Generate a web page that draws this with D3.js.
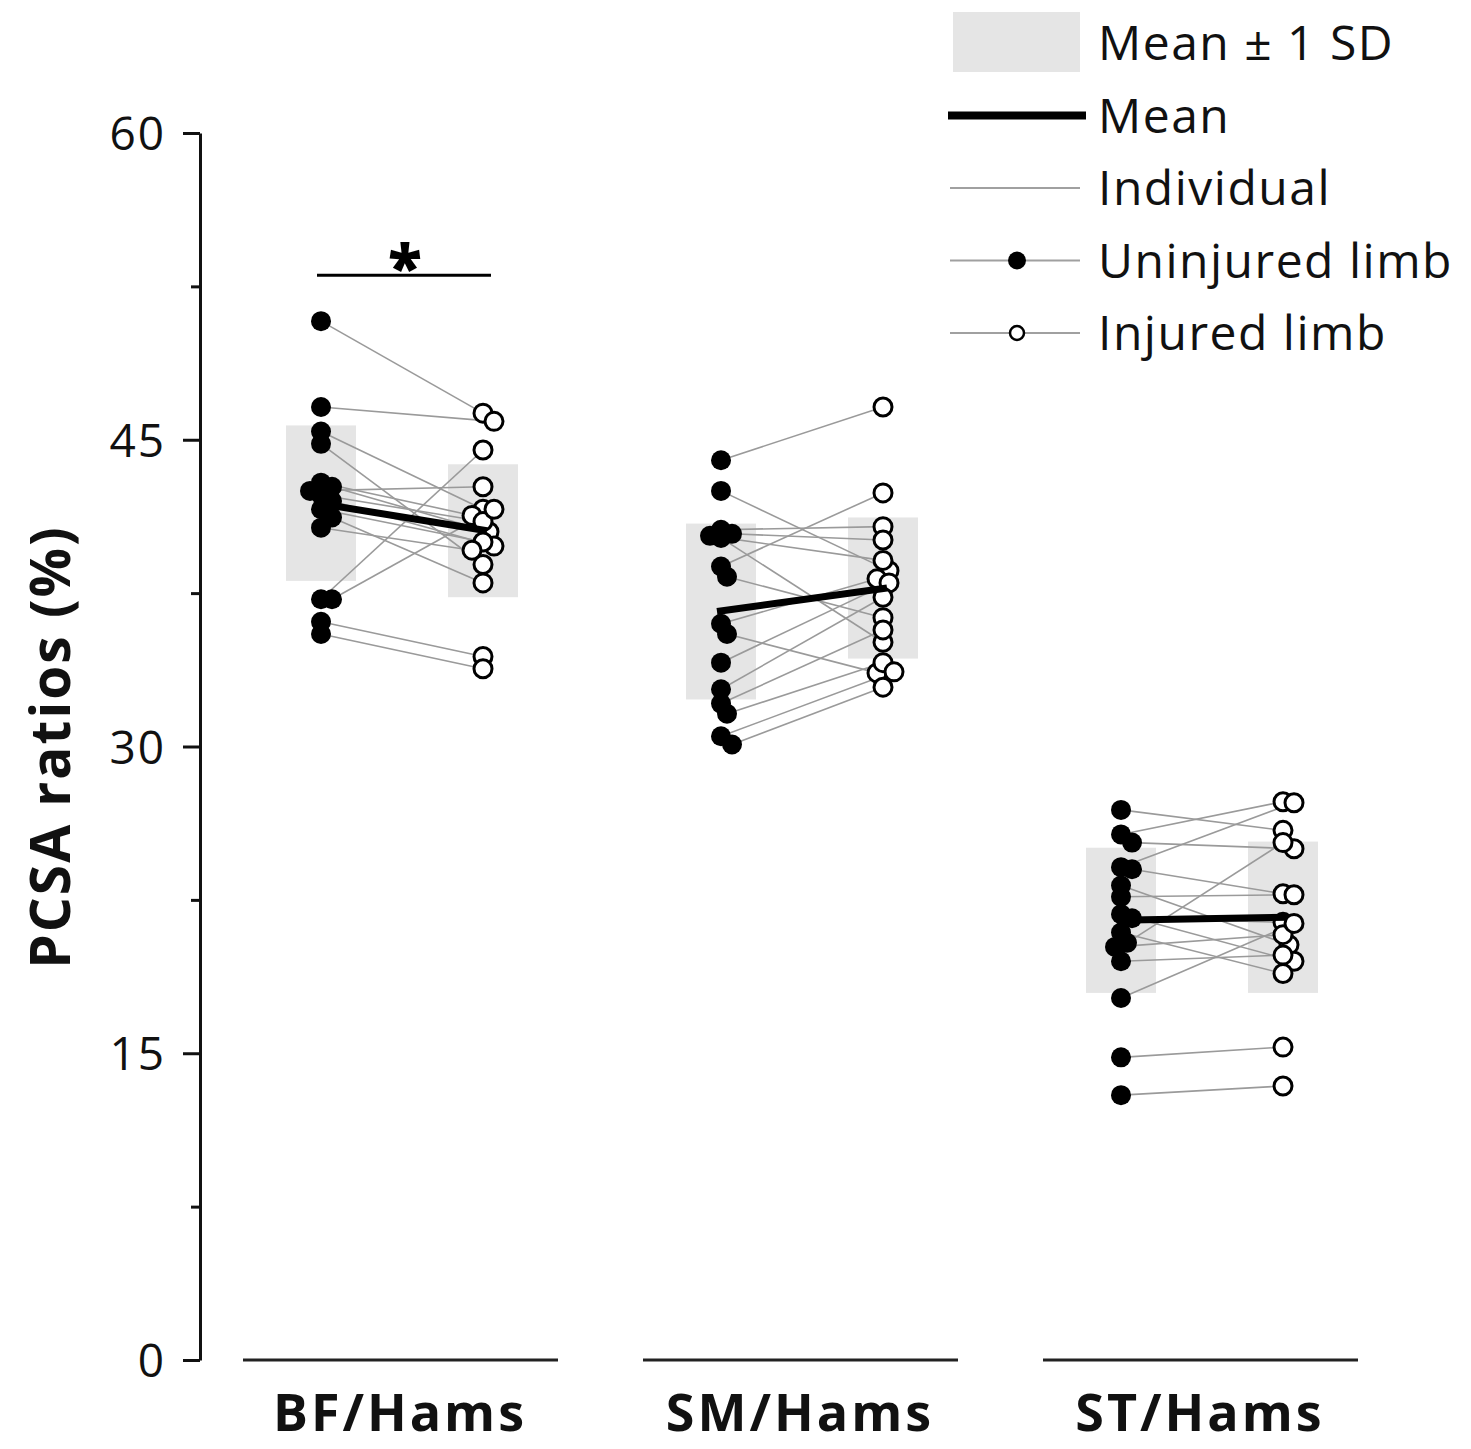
<!DOCTYPE html>
<html><head><meta charset="utf-8">
<script src="https://cdn.jsdelivr.net/npm/d3@7"></script>
<style>body{margin:0;background:#fff}</style>
</head><body>
<svg id="c" width="1471" height="1449"></svg>
<script>
// ---------- data ----------
const groups = ["BF/Hams", "SM/Hams", "ST/Hams"];
// paired values: index i of uninjured matches index i of injured
const bfUninjured = [50.8, 46.6, 45.4, 44.8, 42.9, 42.7, 42.5, 42.3, 42.0, 41.6, 41.2, 40.7, 37.2, 37.2, 36.1, 35.5];
const bfInjured   = [46.3, 45.9, 41.6, 38.9, 41.3, 40.5, 42.7, 41.0, 39.8, 40.0, 38.0, 39.6, 44.5, 41.6, 34.4, 33.8];
const smUninjured = [44.0, 42.5, 40.6, 40.4, 40.3, 40.2, 38.8, 38.3, 36.0, 35.5, 34.1, 32.8, 32.1, 31.6, 30.5, 30.1];
const smInjured   = [46.6, 38.6, 40.75, 40.1, 39.1, 35.1, 42.4, 36.3, 38.2, 33.6, 38.0, 37.3, 35.7, 34.1, 33.65, 32.9];
const stUninjured = [26.9, 25.7, 25.3, 24.1, 24.0, 23.2, 22.65, 21.8, 21.6, 20.9, 20.4, 20.2, 19.5, 17.7, 14.8, 12.95];
const stInjured   = [25.9, 27.3, 25.0, 27.25, 22.8, 20.3, 22.75, 19.5, 21.4, 18.9, 25.3, 20.8, 19.8, 21.35, 15.3, 13.4];
const uninjuredMean = [41.9, 36.6, 21.5];
const uninjuredSD   = [3.8, 4.3, 3.55];
const injuredMean   = [40.55, 37.75, 21.65];
const injuredSD     = [3.25, 3.45, 3.7];
const significant   = [true, false, false];
const yTicks = [0, 15, 30, 45, 60];
const yMinorTicks = [7.5, 22.5, 37.5, 52.5];
const yTitle = "PCSA ratios (%)";
const legendLabels = ["Mean \u00B1 1 SD", "Mean", "Individual", "Uninjured limb", "Injured limb"];

const uninjuredByGroup = [bfUninjured, smUninjured, stUninjured];
const injuredByGroup = [bfInjured, smInjured, stInjured];

// ---------- drawing ----------
const FONT = "'Open Sans', 'Noto Sans', sans-serif";
const svg = d3.select("#c").style("font-family", FONT);
const y = d3.scaleLinear().domain([0, 60]).range([1360, 133]);
const x = d3.scaleBand().domain(groups).range([200, 1400]);
const side = d3.scalePoint().domain(["uninjured", "injured"]).range([-79, 83]);
const bw = x.bandwidth();
const cx = (g, s) => x(g) + bw / 2 + side(s);

// dodge for overlapping points
function dodge(vals, center) {
  const order = vals.map((v, i) => i).sort((a, b) => vals[b] - vals[a]);
  const placed = [];
  const xs = new Array(vals.length);
  const offs = [0, 6, -6, 11, -11, 15, -15];
  order.forEach(i => {
    const py = y(vals[i]);
    let chosen = 0;
    for (const o of offs) {
      const ok = placed.every(p => Math.hypot(p[0] - (center + o), p[1] - py) >= 11);
      if (ok) { chosen = o; break; }
    }
    xs[i] = center + chosen;
    placed.push([xs[i], py]);
  });
  return xs;
}

// y axis
const yAxis = svg.append("g").attr("transform", "translate(200,0)")
  .call(d3.axisLeft(y).tickValues(yTicks).tickSize(17).tickSizeOuter(0).tickPadding(17));
yAxis.select(".domain").attr("stroke", "#111").attr("stroke-width", 3);
yAxis.selectAll(".tick line").attr("stroke", "#111").attr("stroke-width", 3);
yAxis.selectAll(".tick text").attr("font-size", 46).attr("font-family", FONT).attr("fill", "#111")
  .attr("dy", "0.36em").attr("letter-spacing", 2);
const yMinor = svg.append("g").attr("transform", "translate(200,0)")
  .call(d3.axisLeft(y).tickValues(yMinorTicks).tickSize(9).tickFormat(""));
yMinor.select(".domain").remove();
yMinor.selectAll(".tick line").attr("stroke", "#111").attr("stroke-width", 3);

svg.append("text").attr("transform", "translate(70,747) rotate(-90)")
  .attr("text-anchor", "middle").attr("font-size", 55).attr("font-weight", 700)
  .attr("letter-spacing", 2).attr("fill", "#111").text(yTitle);

// group baselines and labels
groups.forEach(g => {
  svg.append("line").attr("x1", x(g) + 43).attr("x2", x(g) + 358)
    .attr("y1", y(0)).attr("y2", y(0)).attr("stroke", "#222").attr("stroke-width", 3);
  svg.append("text").attr("x", x(g) + bw / 2).attr("y", 1431).attr("text-anchor", "middle")
    .attr("font-size", 52).attr("font-weight", 700).attr("letter-spacing", 3)
    .attr("fill", "#111").text(g);
});

// SD boxes
groups.forEach((g, gi) => {
  [["uninjured", uninjuredMean[gi], uninjuredSD[gi]], ["injured", injuredMean[gi], injuredSD[gi]]].forEach(([s, m, sd]) => {
    svg.append("rect").attr("x", cx(g, s) - 35).attr("width", 70)
      .attr("y", y(m + sd)).attr("height", y(m - sd) - y(m + sd)).attr("fill", "#e5e5e5");
  });
});

// individual lines and points
groups.forEach((g, gi) => {
  const u = uninjuredByGroup[gi], inj = injuredByGroup[gi];
  const ux = dodge(u, cx(g, "uninjured"));
  const ix = dodge(inj, cx(g, "injured"));
  const gg = svg.append("g");
  gg.selectAll("line.ind").data(u).enter().append("line")
    .attr("x1", (d, i) => ux[i]).attr("y1", d => y(d))
    .attr("x2", (d, i) => ix[i]).attr("y2", (d, i) => y(inj[i]))
    .attr("stroke", "#9a9a9a").attr("stroke-width", 1.6);
  gg.selectAll("circle.u").data(u).enter().append("circle")
    .attr("cx", (d, i) => ux[i]).attr("cy", d => y(d)).attr("r", 10).attr("fill", "#000");
  gg.selectAll("circle.i").data(inj).enter().append("circle")
    .attr("cx", (d, i) => ix[i]).attr("cy", d => y(d)).attr("r", 9)
    .attr("fill", "#fff").attr("stroke", "#000").attr("stroke-width", 3);
  // mean line
  svg.append("line").attr("x1", cx(g, "uninjured") - 4).attr("x2", cx(g, "injured") + 4)
    .attr("y1", y(uninjuredMean[gi])).attr("y2", y(injuredMean[gi]))
    .attr("stroke", "#000").attr("stroke-width", 7).attr("stroke-linecap", "butt");
  // significance
  if (significant[gi]) {
    const top = y(d3.max(u.concat(inj))) - 46;
    svg.append("line").attr("x1", cx(g, "uninjured") - 4).attr("x2", cx(g, "injured") + 8)
      .attr("y1", top).attr("y2", top).attr("stroke", "#000").attr("stroke-width", 3);
    svg.append("text").attr("x", (cx(g, "uninjured") + cx(g, "injured")) / 2 + 3).attr("y", top + 14)
      .attr("text-anchor", "middle").attr("font-size", 62).attr("font-weight", 800).text("*");
  }
});

// legend
const lg = svg.append("g");
const rowY = i => 43 + i * 72.5;
lg.append("rect").attr("x", 953).attr("y", 12).attr("width", 127).attr("height", 60).attr("fill", "#e5e5e5");
lg.append("line").attr("x1", 948).attr("x2", 1086).attr("y1", rowY(1)).attr("y2", rowY(1))
  .attr("stroke", "#000").attr("stroke-width", 8);
[2, 3, 4].forEach(i => lg.append("line").attr("x1", 950).attr("x2", 1080)
  .attr("y1", rowY(i)).attr("y2", rowY(i)).attr("stroke", "#a0a0a0").attr("stroke-width", 1.8));
lg.append("circle").attr("cx", 1017).attr("cy", rowY(3)).attr("r", 9).attr("fill", "#000");
lg.append("circle").attr("cx", 1017).attr("cy", rowY(4)).attr("r", 7).attr("fill", "#fff")
  .attr("stroke", "#000").attr("stroke-width", 2.5);
lg.selectAll("text").data(legendLabels).enter().append("text")
  .attr("x", 1098).attr("y", (d, i) => rowY(i) + 17).attr("font-size", 48)
  .attr("letter-spacing", 1.5).attr("fill", "#111").text(d => d);
</script>
</body></html>
